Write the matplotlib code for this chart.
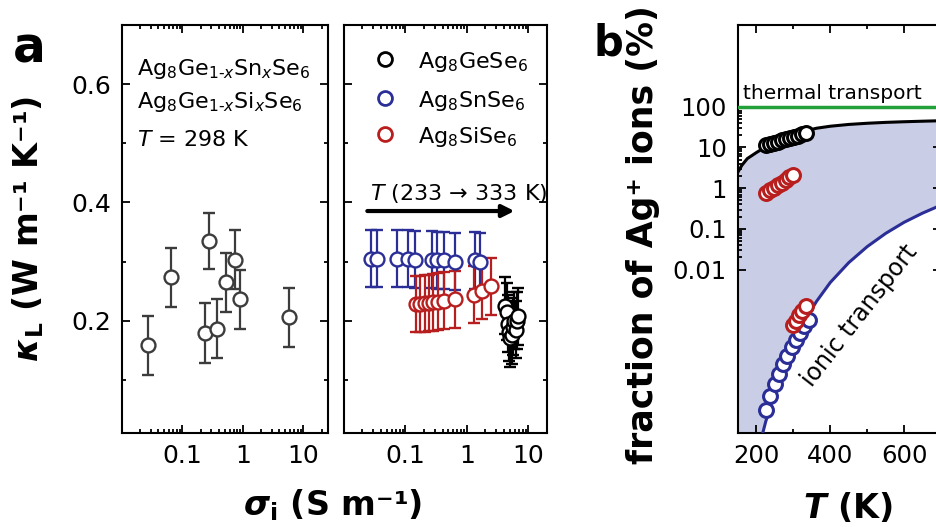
import matplotlib
matplotlib.use('Agg')
import matplotlib.pyplot as plt
from matplotlib.ticker import LogLocator, NullFormatter

plt.rcParams['font.family'] = ['DejaVu Sans']
plt.rcParams['mathtext.fontset'] = 'custom'
plt.rcParams['mathtext.rm'] = 'DejaVu Sans'
plt.rcParams['mathtext.it'] = 'DejaVu Sans:italic'
plt.rcParams['mathtext.bf'] = 'DejaVu Sans:bold'
plt.rcParams['mathtext.bfit'] = 'DejaVu Sans:italic:bold'

# panel a (left): Ag8Ge1-xSnxSe6 / Ag8Ge1-xSixSe6 at 298 K
sigma_mix = [0.0274, 0.0643, 0.276, 0.237, 0.371, 0.527, 0.743, 0.90, 5.8]
kappa_mix = [0.158, 0.273, 0.335, 0.179, 0.186, 0.265, 0.303, 0.236, 0.206]
kerr_mix = [0.05, 0.05, 0.047, 0.05, 0.05, 0.05, 0.05, 0.05, 0.05]

# panel a (right): end members, T = 233 -> 333 K
sigma_sn = [0.027, 0.035, 0.072, 0.108, 0.145, 0.272, 0.328, 0.425, 0.64, 1.35, 1.62]
kappa_sn = [0.305, 0.305, 0.305, 0.305, 0.303, 0.303, 0.302, 0.302, 0.300, 0.302, 0.300]
sigma_si = [0.147, 0.173, 0.205, 0.241, 0.283, 0.337, 0.421, 0.647, 1.28, 1.75, 2.5]
kappa_si = [0.228, 0.228, 0.229, 0.230, 0.231, 0.232, 0.234, 0.236, 0.244, 0.250, 0.258]
sigma_ge = [4.2, 4.4, 4.6, 4.8, 5.0, 5.3, 5.5, 5.8, 6.2, 6.5, 6.8]
kappa_ge = [0.225, 0.215, 0.195, 0.18, 0.17, 0.175, 0.19, 0.20, 0.185, 0.20, 0.207]
kerr_end = 0.048

# panel b: fraction of Ag+ ions
T_curve = [150, 160, 175, 200, 217, 225, 233, 250, 275, 300, 333, 363, 400, 450, 500, 550, 600, 650, 700]
thermal_curve = [2.5, 3.6, 5.3, 7.5, 9.3, 10.4, 11.6, 14.0, 17.5, 21.0, 25.5, 29.5, 33.0, 36.5, 39.0, 41.0, 42.5, 43.8, 45.0]
ionic_curve = [1e-6, 1e-6, 1e-6, 1e-6, 1.0e-6, 1.9e-6, 3.2e-6, 1.1e-5, 4.7e-5, 1.6e-4, 6.2e-4, 1.7e-3,
               4.9e-3, 1.5e-2, 3.7e-2, 7.8e-2, 0.146, 0.245, 0.385]
T_ge = [226, 237, 247, 258, 269, 280, 290, 301, 312, 322, 333]
frac_ge = [11.2, 12.0, 12.9, 13.8, 14.8, 15.8, 16.9, 18.1, 19.4, 20.8, 22.3]
T_si_hi = [226, 237, 247, 258, 268, 279, 289, 300]
frac_si_hi = [0.76, 0.88, 1.02, 1.18, 1.36, 1.58, 1.83, 2.12]
T_si_lo = [300, 306, 315, 324, 333]
frac_si_lo = [4.5e-4, 5.6e-4, 7.6e-4, 1.0e-3, 1.3e-3]
T_sn = [226, 237, 249, 260, 272, 283, 295, 306, 318, 329, 341]
frac_sn = [3.7e-6, 7.9e-6, 1.6e-5, 2.8e-5, 4.8e-5, 7.9e-5, 1.26e-4, 1.9e-4, 2.8e-4, 4.2e-4, 6.0e-4]

gray = '#3c3c3c'
navy = '#2a2e96'
red = '#b81e1e'
green = '#23a03a'
fill = '#cacde6'

fig = plt.figure(figsize=(9.36, 5.27), dpi=100)
ax1 = fig.add_axes([0.1303, 0.1784, 0.2196, 0.7742])
ax2 = fig.add_axes([0.3675, 0.1784, 0.2169, 0.7742])
ax3 = fig.add_axes([0.7885, 0.1784, 0.2169, 0.7742])


def style(ax, size):
    for s in ax.spines.values():
        s.set_linewidth(1.5)
    ax.tick_params(which='both', direction='in', top=True, right=True, width=1.3, labelsize=size, pad=8)
    ax.tick_params(which='major', length=5.5)
    ax.tick_params(which='minor', length=3)


ebar = dict(fmt='o', mfc='white', ms=10, mew=1.7, elinewidth=1.6, capsize=4.5, capthick=1.6)

ax1.errorbar(sigma_mix, kappa_mix, yerr=kerr_mix, color=gray, **ebar)
ax2.errorbar(sigma_sn, kappa_sn, yerr=kerr_end, color=navy, **ebar)
ax2.errorbar(sigma_si, kappa_si, yerr=kerr_end, color=red, **ebar)
ax2.errorbar(sigma_ge, kappa_ge, yerr=kerr_end, color='k', **ebar)

for ax, xmax in [(ax1, 25), (ax2, 20)]:
    ax.set_xscale('log')
    ax.set_xlim(0.01, xmax)
    ax.set_ylim(0.01, 0.7)
    ax.set_xticks([0.1, 1, 10], labels=['0.1', '1', '10'])
    ax.xaxis.set_minor_locator(LogLocator(base=10, subs=range(2, 10)))
    ax.xaxis.set_minor_formatter(NullFormatter())
    ax.set_yticks([0.2, 0.4, 0.6], labels=['0.2', '0.4', '0.6'])
    ax.set_yticks([0.1, 0.3, 0.5], minor=True)
    style(ax, 18)
ax2.tick_params(labelleft=False)

ax1.text(0.073, 0.877, r'Ag$_8$Ge$_{1‐x}$Sn$_x$Se$_6$', transform=ax1.transAxes, fontsize=16, va='baseline')
ax1.text(0.073, 0.797, r'Ag$_8$Ge$_{1‐x}$Si$_x$Se$_6$', transform=ax1.transAxes, fontsize=16, va='baseline')
ax1.text(0.073, 0.703, r'$T$ = 298 K', transform=ax1.transAxes, fontsize=16, va='baseline')

legend_rows = [('k', r'Ag$_8$GeSe$_6$', 0.895), (navy, r'Ag$_8$SnSe$_6$', 0.799), (red, r'Ag$_8$SiSe$_6$', 0.711)]
for c, lab, yb in legend_rows:
    ax2.plot([0.202], [yb + 0.022], 'o', transform=ax2.transAxes, mfc='white', mec=c, ms=10, mew=2)
    ax2.text(0.365, yb, lab, transform=ax2.transAxes, fontsize=16, va='baseline')
ax2.text(0.128, 0.571, r'$T$ (233 → 333 K)', transform=ax2.transAxes, fontsize=16, va='baseline')
ax2.annotate('', xy=(0.84, 0.544), xytext=(0.115, 0.544), xycoords='axes fraction',
             arrowprops=dict(arrowstyle='-|>', lw=3, color='k', mutation_scale=18, shrinkA=0, shrinkB=0))

# panel b
ax3.fill_between(T_curve, ionic_curve, thermal_curve, color=fill, lw=0, zorder=1)
ax3.plot(T_curve, thermal_curve, color='k', lw=2.2, zorder=3)
ax3.plot(T_curve[4:], ionic_curve[4:], color=navy, lw=2.2, zorder=3)
ax3.axhline(100, color=green, lw=2.5, zorder=3)
mk = dict(ls='none', marker='o', mfc='white', ms=10, mew=2.2, zorder=4)
ax3.plot(T_ge, frac_ge, mec='k', **mk)
ax3.plot(T_si_hi, frac_si_hi, mec=red, **mk)
ax3.plot(T_sn, frac_sn, mec=navy, **mk)
ax3.plot(T_si_lo, frac_si_lo, mec=red, **mk)

ax3.set_yscale('log')
ax3.set_xlim(150, 700)
ax3.set_ylim(1e-6, 1e4)
ax3.set_xticks([200, 400, 600], labels=['200', '400', '600'])
ax3.set_xticks([300, 500], minor=True)
ax3.set_yticks([0.01, 0.1, 1, 10, 100], labels=['0.01', '0.1', '1', '10', '100'])
ax3.set_yticks([k * 10.0 ** n for n in range(-2, 2) for k in range(2, 10)], minor=True)
ax3.yaxis.set_minor_formatter(NullFormatter())
style(ax3, 17.5)
ax3.tick_params(axis='y', which='minor', right=False)

ax3.text(0.025, 0.819, 'thermal transport', transform=ax3.transAxes, fontsize=14.5, va='baseline')
ax3.text(0.60, 0.287, 'ionic transport', transform=ax3.transAxes, fontsize=17, rotation=52,
         rotation_mode='anchor', ha='center', va='center')

# labels
fig.text(0.0305, 0.566, r'$\mathbfit{\kappa}_\mathbf{L}$ (W m⁻¹ K⁻¹)', rotation=90, ha='center', va='center',
         fontsize=24, fontweight='bold')
fig.text(0.3552, 0.022, r'$\mathbfit{\sigma}_\mathbf{i}$ (S m⁻¹)', ha='center', va='baseline',
         fontsize=24, fontweight='bold')
fig.text(0.6875, 0.554, 'fraction of Ag⁺ ions (%)', rotation=90, ha='center', va='center',
         fontsize=25, fontweight='bold')
fig.text(0.9055, 0.0171, r'$\mathbfit{T}$ (K)', ha='center', va='baseline', fontsize=24, fontweight='bold')
fig.text(0.014, 0.8805, 'a', fontsize=35, fontweight='bold', va='baseline')
fig.text(0.634, 0.8956, 'b', fontsize=30, fontweight='bold', va='baseline')

fig.savefig('out.png', dpi=100)
